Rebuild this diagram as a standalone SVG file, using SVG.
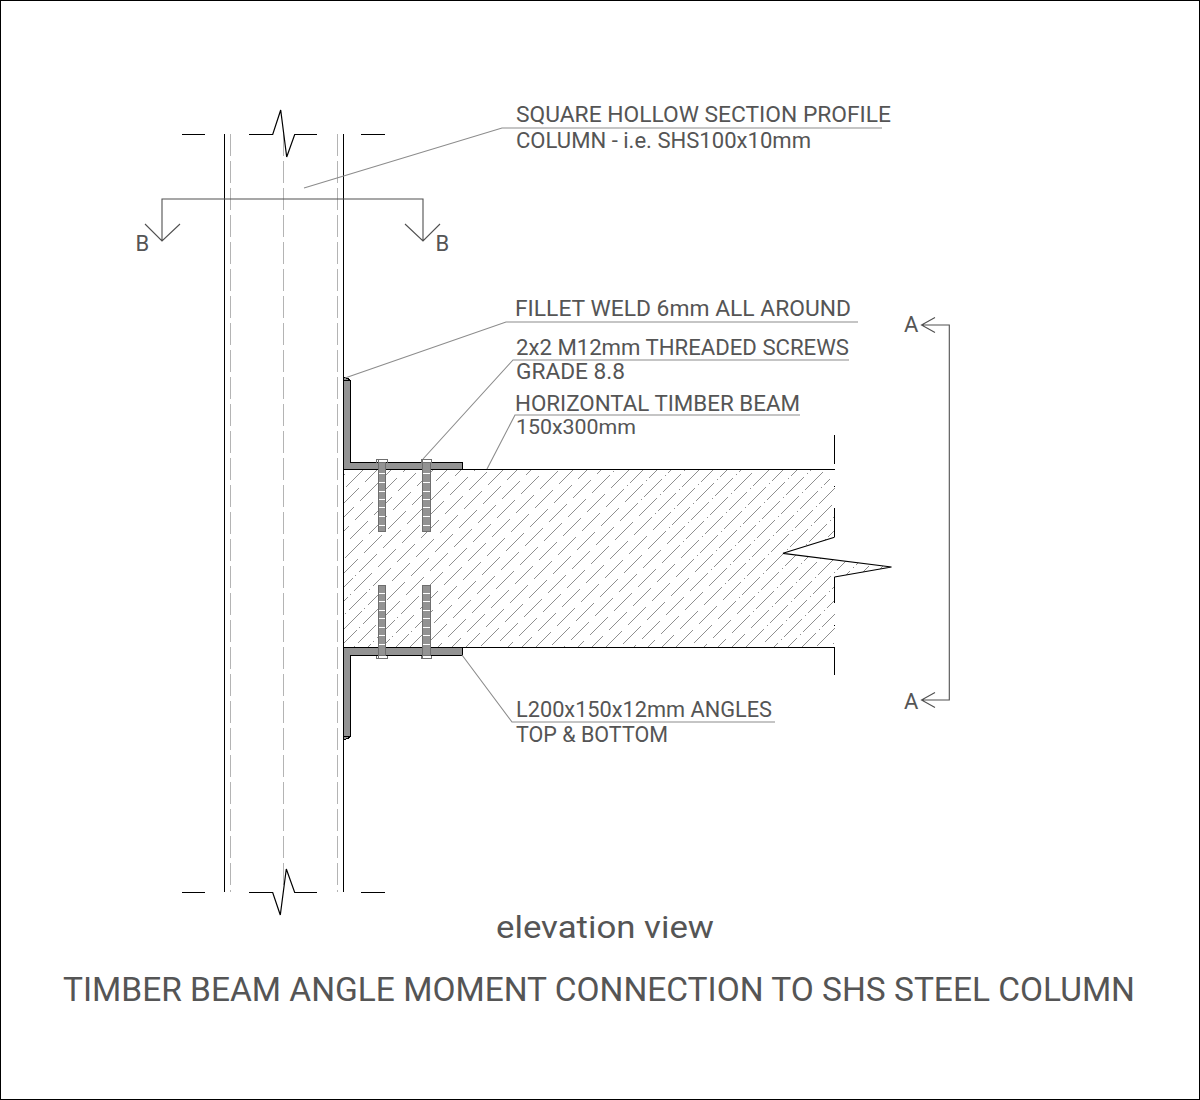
<svg xmlns="http://www.w3.org/2000/svg" width="1200" height="1100" viewBox="0 0 1200 1100">
<style>
path,rect{shape-rendering:crispEdges}
.k{fill:none;stroke:#000;stroke-width:1}
.a{fill:none;stroke:#000;stroke-width:1.2;shape-rendering:auto}
.d{fill:none;stroke:#b4b4b4;stroke-width:1;stroke-dasharray:22 5}
.l{fill:none;stroke:#8c8c8c;stroke-width:1.1;shape-rendering:auto}
.s{fill:none;stroke:#505050;stroke-width:1.1;shape-rendering:auto}
.st{fill:#939393;stroke:#000;stroke-width:1}
.b{fill:#939393;stroke:#6e6e6e;stroke-width:1}
.h{fill:none;stroke:#6e6e6e;stroke-width:1}
.w{stroke:#fff;stroke-width:1}
.x{fill:none;stroke:#8f8f8f;stroke-width:1;stroke-dasharray:1 3.5 26 3.5}
text{font-family:"Roboto","Liberation Sans",sans-serif;fill:#555}
.t{font-size:22px}
</style>
<defs>
<clipPath id="beam-clip"><path d="M344 470H835V537.300L783 553.300L891.500 567L835 577V647H344Z"/></clipPath>
</defs>
<rect x="0.5" y="0.5" width="1199" height="1099" fill="#fff" stroke="#000"/>
<g id="column">
<path class="k" d="M224.500 134V892M343.500 134V892"/>
<path class="d" d="M230.500 134V892M283.500 134V892M337.500 134V892"/>
<path class="a" d="M182 134.500H205M249 134.500H272.700L280.700 110L286.700 157L294.700 134.500H317M361 134.500H385"/>
<path class="a" d="M182 892.500H205M249 892.500H272.700L280.300 915L286.300 869L294.700 892.500H317M361 892.500H385"/>
</g>
<g id="beam">
<g clip-path="url(#beam-clip)">
<path class="x" d="M251.400 567.600l333.100-333.100m-319.100 347.100l333.100-333.100m-319.100 347.100l333.100-333.100m-319.100 347.100l333.100-333.100m-319.100 347.100l333.100-333.100m-319.100 347.100l333.100-333.100m-319.100 347.100l333.100-333.100m-319.100 347.100l333.100-333.100m-319.100 347.100l333.100-333.100m-319.100 347.100l333.100-333.100m-319.100 347.100l333.100-333.100m-319.100 347.100l333.100-333.100m-319.100 347.100l333.100-333.100m-319.100 347.100l333.100-333.100m-319.100 347.100l333.100-333.100m-319.100 347.100l333.100-333.100m-319.100 347.100l333.100-333.100m-319.100 347.100l333.100-333.100m-319.100 347.100l333.100-333.100m-319.100 347.100l333.100-333.100m-319.100 347.100l333.100-333.100m-319.100 347.100l333.100-333.100m-319.100 347.100l333.100-333.100m-319.100 347.100l333.100-333.100m-319.100 347.100l333.100-333.100m-319.100 347.100l333.100-333.100"/>
<path class="x" d="M246.380 586.620l345.120-345.120m-331.120 359.120l345.120-345.120m-331.120 359.120l345.120-345.120m-331.120 359.120l345.120-345.120m-331.120 359.120l345.120-345.120m-331.120 359.120l345.120-345.120m-331.120 359.120l345.120-345.120m-331.120 359.120l345.120-345.120m-331.120 359.120l345.120-345.120m-331.120 359.120l345.120-345.120m-331.120 359.120l345.120-345.120m-331.120 359.120l345.120-345.120m-331.120 359.120l345.120-345.120m-331.120 359.120l345.120-345.120m-331.120 359.120l345.120-345.120m-331.120 359.120l345.120-345.120m-331.120 359.120l345.120-345.120m-331.120 359.120l345.120-345.120m-331.120 359.120l345.120-345.120m-331.120 359.120l345.120-345.120m-331.120 359.120l345.120-345.120m-331.120 359.120l345.120-345.120m-331.120 359.120l345.120-345.120m-331.120 359.120l345.120-345.120m-331.120 359.120l345.120-345.120m-331.120 359.120l345.120-345.120"/>
</g>
<path class="k" d="M344 469.500H835M834.500 435V464M834.500 486V487M834.500 508V537M834.500 577V603M834.500 625V626M344 647.500H835M834.500 647.500V675"/>
<path class="a" d="M834.500 537.300L783 553.300L891.500 567L834.500 577"/>
</g>
<g id="angle-top">
<path class="st" d="M343.500 380.500H350.500V462.500H462.500V469.500H343.500Z"/>
<path class="st" d="M343.500 380.500V377.500L348 378.500L350.500 380.500Z"/>
</g>
<g id="angle-bottom">
<path class="st" d="M343.500 647.500H462.500V655.500H350.500V736.500H343.500Z"/>
<path class="st" d="M343.500 736.500V739.500L348 738.500L350.500 736.500Z"/>
</g>
<g id="screws">
<path class="b" d="M378.500 462.500H385.500V531.500H378.500ZM422.500 462.500H430.500V531.500H422.500ZM378.500 585.500H385.500V655.500H378.500ZM422.500 585.500H430.500V655.500H422.500Z"/>
<path class="h" d="M376.500 462.500V459.500H387.500V462.500M421.500 462.500V459.500H431.500V462.500M376.500 655.500V658.500H387.500V655.500M421.500 655.500V658.500H431.500V655.500M378.500 459.500V462.500M422.500 459.500V462.500M378.500 655.500V658.500M422.500 655.500V658.500"/>
<path class="w" d="M379 473.500H385M379 482.500H385M379 491.500H385M379 499.500H385M379 507.500H385M379 516.500H385M379 525.500H385M423 473.500H430M423 482.500H430M423 491.500H430M423 499.500H430M423 507.500H430M423 516.500H430M423 525.500H430M379 593.500H385M379 601.500H385M379 610.500H385M379 618.500H385M379 627.500H385M379 635.500H385M379 644.500H385M423 593.500H430M423 601.500H430M423 610.500H430M423 618.500H430M423 627.500H430M423 635.500H430M423 644.500H430"/>
</g>
<g id="connectors">
<path class="l" d="M304 188L502 128H882"/>
<path class="l" d="M345 378L506 322H858"/>
<path class="l" d="M423 459L513 360H849"/>
<path class="l" d="M487 469L515 415H800"/>
<path class="l" d="M462 655L512 722H775"/>
</g>
<g id="section-b">
<path class="s" d="M162 241V199H423V241M145 224L162 241L180 224M405 224L423 241L440 224"/>
<text x="135.500" y="251" font-size="22">B</text>
<text x="435.500" y="251" font-size="22">B</text>
</g>
<g id="section-a">
<path class="s" d="M921.500 325H949.300V700H921.500M935 317.500L921.500 325L935 332.500M935 692.500L921.500 700L935 707.500"/>
<text x="904" y="331.500" font-size="22">A</text>
<text x="904" y="709" font-size="22">A</text>
</g>
<g id="labels">
<text class="t" x="516" y="122" textLength="375" lengthAdjust="spacingAndGlyphs">SQUARE HOLLOW SECTION PROFILE</text>
<text class="t" x="516" y="148" textLength="295" lengthAdjust="spacingAndGlyphs">COLUMN - i.e. SHS100x10mm</text>
<text class="t" x="515" y="316" textLength="336" lengthAdjust="spacingAndGlyphs">FILLET WELD 6mm ALL AROUND</text>
<text class="t" x="516" y="355" textLength="333" lengthAdjust="spacingAndGlyphs">2x2 M12mm THREADED SCREWS</text>
<text class="t" x="516" y="379" textLength="109" lengthAdjust="spacingAndGlyphs">GRADE 8.8</text>
<text x="515" y="410.500" font-size="21.5" textLength="285" lengthAdjust="spacingAndGlyphs">HORIZONTAL TIMBER BEAM</text>
<text x="516" y="433.500" font-size="19.5" textLength="120" lengthAdjust="spacingAndGlyphs">150x300mm</text>
<text class="t" x="516" y="717" textLength="256" lengthAdjust="spacingAndGlyphs">L200x150x12mm ANGLES</text>
<text class="t" x="516" y="742" textLength="152" lengthAdjust="spacingAndGlyphs">TOP &amp; BOTTOM</text>
<text x="496" y="938" font-size="31" textLength="218" lengthAdjust="spacingAndGlyphs">elevation view</text>
<text x="63" y="1001" font-size="33" textLength="1072" lengthAdjust="spacingAndGlyphs">TIMBER BEAM ANGLE MOMENT CONNECTION TO SHS STEEL COLUMN</text>
</g>
</svg>
